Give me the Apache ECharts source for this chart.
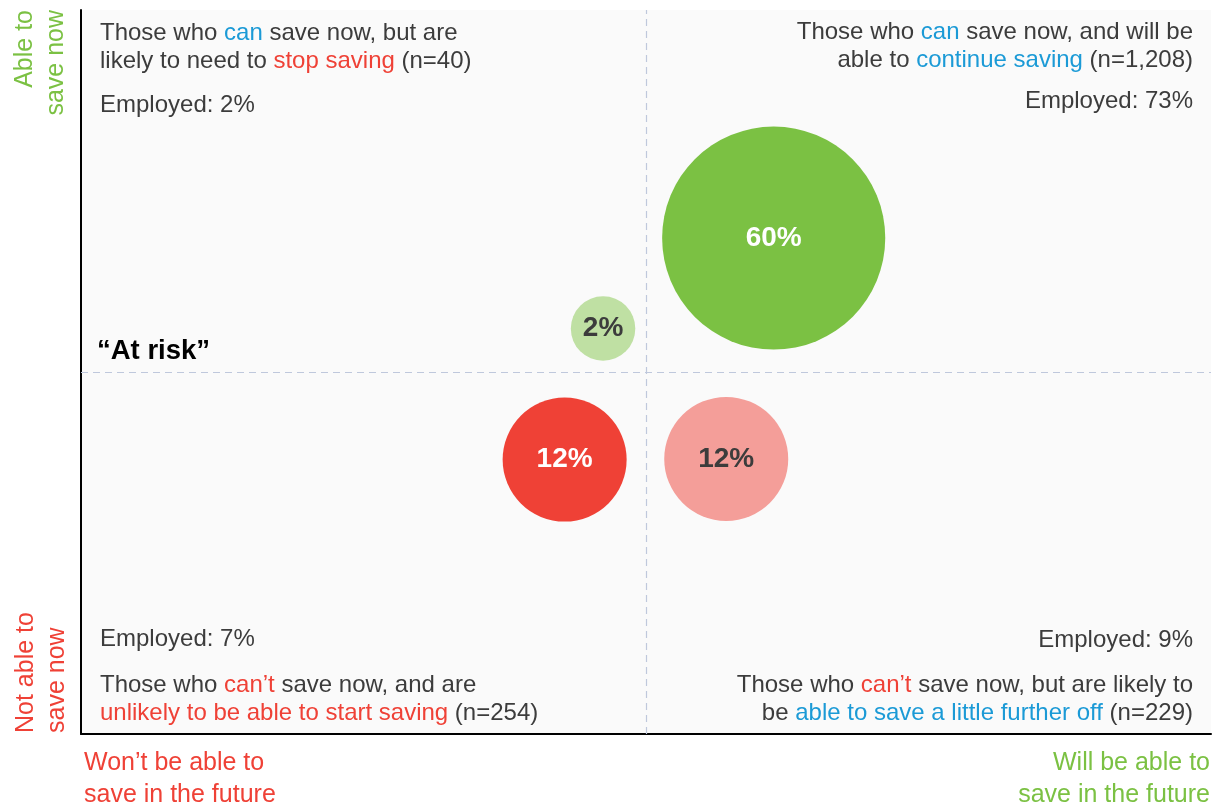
<!DOCTYPE html>
<html>
<head>
<meta charset="utf-8">
<script src="https://cdn.jsdelivr.net/npm/echarts@6/dist/echarts.min.js"></script>
<style>
  html, body { margin: 0; padding: 0; background: #ffffff; }
  #chart { width: 1214px; height: 805px; }
</style>
</head>
<body>
<div id="chart"></div>
<script>
// Saver segments: share of respondents, position on the two attitude scales
const segments = ['stopSaving', 'continueSaving', 'neverStart', 'startLater'];
const shares = [2, 60, 12, 12];                 // % of all respondents
const futureScore = [46.2, 61.3, 42.8, 57.1];   // 0 = won't be able, 100 = will be able
const nowScore = [56.0, 68.5, 37.9, 38.0];      // 0 = not able now, 100 = able now
const sampleSizes = ['40', '1,208', '254', '229'];
const employedPct = [2, 73, 7, 9];

const FONT = '"Liberation Sans", Arial, sans-serif';
const GREEN = '#7bc143';
const RED = '#ef4136';
const BLUE = '#1b9ad6';
const INK = '#3c3c3c';
const BODY_SIZE = 24;

const bubbleColors = ['#bfe0a3', GREEN, RED, '#f49e99'];
const labelColors = [INK, '#ffffff', '#ffffff', INK];

const option = {
  backgroundColor: '#ffffff',
  animation: false,
  grid: {
    left: 81, right: 3, top: 10, bottom: 71,
    show: true, backgroundColor: '#fafafa', borderWidth: 0
  },
  xAxis: {
    type: 'value', min: 0, max: 100,
    axisLine: { show: true, lineStyle: { color: '#000000', width: 2 } },
    axisTick: { show: false }, axisLabel: { show: false }, splitLine: { show: false }
  },
  yAxis: {
    type: 'value', min: 0, max: 100,
    axisLine: { show: true, lineStyle: { color: '#000000', width: 2 } },
    axisTick: { show: false }, axisLabel: { show: false }, splitLine: { show: false }
  },
  series: [{
    type: 'scatter',
    data: segments.map((name, i) => ({
      name: name,
      value: [futureScore[i], nowScore[i], shares[i]],
      itemStyle: { color: bubbleColors[i], opacity: 1 },
      label: { color: labelColors[i] }
    })),
    symbolSize: d => 124 * Math.pow(d[2] / 12, 0.365),
    label: {
      show: true, position: 'inside',
      formatter: p => p.value[2] + '%',
      fontFamily: FONT, fontWeight: 'bold', fontSize: 28
    },
    emphasis: { disabled: true },
    markLine: {
      silent: true, symbol: 'none', animation: false,
      label: { show: false },
      lineStyle: { color: '#bfc8dc', type: [7, 5], width: 1.2 },
      data: [{ xAxis: 50 }, { yAxis: 50 }]
    },
    z: 3
  }]
};

const bodyRich = {
  d: { fontFamily: FONT, fontSize: BODY_SIZE, fill: INK, lineHeight: 28 },
  b: { fontFamily: FONT, fontSize: BODY_SIZE, fill: BLUE, lineHeight: 28 },
  r: { fontFamily: FONT, fontSize: BODY_SIZE, fill: RED, lineHeight: 28 }
};

function body(x, y, text, align, vAlign) {
  return {
    type: 'text', x: x, y: y, z: 10,
    style: { text: text, rich: bodyRich, fill: INK, align: align, verticalAlign: vAlign || 'middle' }
  };
}
function plain(x, y, text, align, color, size, weight, rotation, vAlign) {
  return {
    type: 'text', x: x, y: y, z: 10, rotation: rotation || 0,
    style: {
      text: text, fill: color, fontFamily: FONT, fontSize: size,
      fontWeight: weight || 'normal', lineHeight: size * 1.25,
      align: align, verticalAlign: vAlign || 'middle'
    }
  };
}

option.graphic = [
  // quadrant descriptions
  body(100, 47, '{d|Those who }{b|can}{d| save now, but are}\n{d|likely to need to }{r|stop saving}{d| (n=' + sampleSizes[0] + ')}', 'left'),
  plain(100, 105, 'Employed: ' + employedPct[0] + '%', 'left', INK, BODY_SIZE),
  body(1193, 46, '{d|Those who }{b|can}{d| save now, and will be}\n{d|able to }{b|continue saving}{d| (n=' + sampleSizes[1] + ')}', 'right'),
  plain(1193, 101, 'Employed: ' + employedPct[1] + '%', 'right', INK, BODY_SIZE),
  plain(100, 639, 'Employed: ' + employedPct[2] + '%', 'left', INK, BODY_SIZE),
  body(100, 699, "{d|Those who }{r|can\u2019t}{d| save now, and are}\n{r|unlikely to be able to start saving}{d| (n=" + sampleSizes[2] + ")}", 'left'),
  plain(1193, 640, 'Employed: ' + employedPct[3] + '%', 'right', INK, BODY_SIZE),
  body(1193, 699, "{d|Those who }{r|can\u2019t}{d| save now, but are likely to}\n{d|be }{b|able to save a little further off}{d| (n=" + sampleSizes[3] + ")}", 'right'),

  plain(97, 351, '\u201cAt risk\u201d', 'left', '#000000', 27.5, 'bold'),

  // axis end labels
  plain(9, 10, 'Able to\nsave now', 'right', GREEN, 25, 'normal', Math.PI / 2, 'top'),
  plain(10, 733, 'Not able to\nsave now', 'left', RED, 25, 'normal', Math.PI / 2, 'top'),
  plain(84, 779, 'Won\u2019t be able to\nsave in the future', 'left', RED, 25),
  plain(1210, 779, 'Will be able to\nsave in the future', 'right', GREEN, 25)
];

const chart = echarts.init(document.getElementById('chart'), null, { renderer: 'canvas' });
chart.setOption(option);
</script>
</body>
</html>
